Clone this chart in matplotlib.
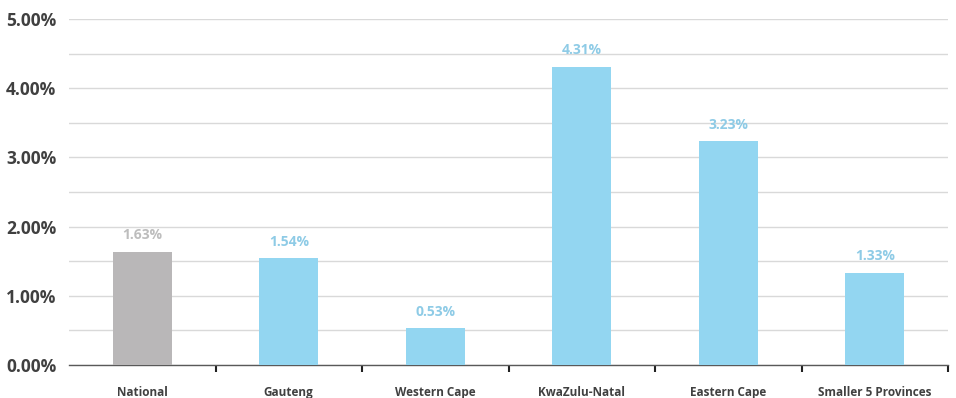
import matplotlib
matplotlib.use("Agg")
import matplotlib.pyplot as plt
from matplotlib.ticker import MultipleLocator, FuncFormatter, FixedLocator

categories = ["National", "Gauteng", "Western Cape", "KwaZulu-Natal", "Eastern Cape", "Smaller 5 Provinces"]
values = [1.63, 1.54, 0.53, 4.31, 3.23, 1.33]
labels = ["1.63%", "1.54%", "0.53%", "4.31%", "3.23%", "1.33%"]

bar_colors = ["#b9b7b8"] + ["#93d6f1"] * 5
label_colors = ["#bdbdbd"] + ["#8ecbe6"] * 5

plt.rcParams['font.family'] = ['Open Sans', 'DejaVu Sans']

fig = plt.figure(figsize=(9.56, 3.98), dpi=100)
ax = fig.add_axes([69/956, 1-365/398, (948-69)/956, (365-19)/398])

x = list(range(len(categories)))
ax.bar(x, values, width=0.4, color=bar_colors, zorder=3)
for xi, v, lab, c in zip(x, values, labels, label_colors):
    ax.annotate(lab, (xi, v), xytext=(0, 7), textcoords="offset points",
                ha="center", va="bottom", color=c, fontsize=10, fontweight="bold")

ax.set_xlim(-0.5, len(categories) - 0.5)
ax.set_ylim(0, 5.0)
ax.yaxis.set_major_locator(MultipleLocator(1.0))
ax.yaxis.set_minor_locator(MultipleLocator(0.5))
ax.yaxis.set_major_formatter(FuncFormatter(lambda v, p: f"{v:.2f}%"))
ax.grid(axis="y", which="both", color="#d9d9d9", linewidth=1, zorder=0)
ax.set_axisbelow(True)

ax.set_xticks(x)
ax.set_xticklabels(categories, fontsize=8.5, fontweight="bold", color="#404040")
ax.xaxis.set_minor_locator(FixedLocator([i + 0.5 for i in range(len(categories))]))
ax.tick_params(axis="x", which="major", length=0, pad=15)
ax.tick_params(axis="x", which="minor", length=5, width=1.5, color="#222222", direction="out")
ax.tick_params(axis="y", which="both", length=0, pad=9)
for t in ax.get_yticklabels():
    t.set_fontsize(12.5)
    t.set_fontweight("bold")
    t.set_color("#404040")

for s in ["top", "right", "left"]:
    ax.spines[s].set_visible(False)
ax.spines["bottom"].set_color("#595959")
ax.spines["bottom"].set_linewidth(1)

fig.savefig("out.png", dpi=100)
